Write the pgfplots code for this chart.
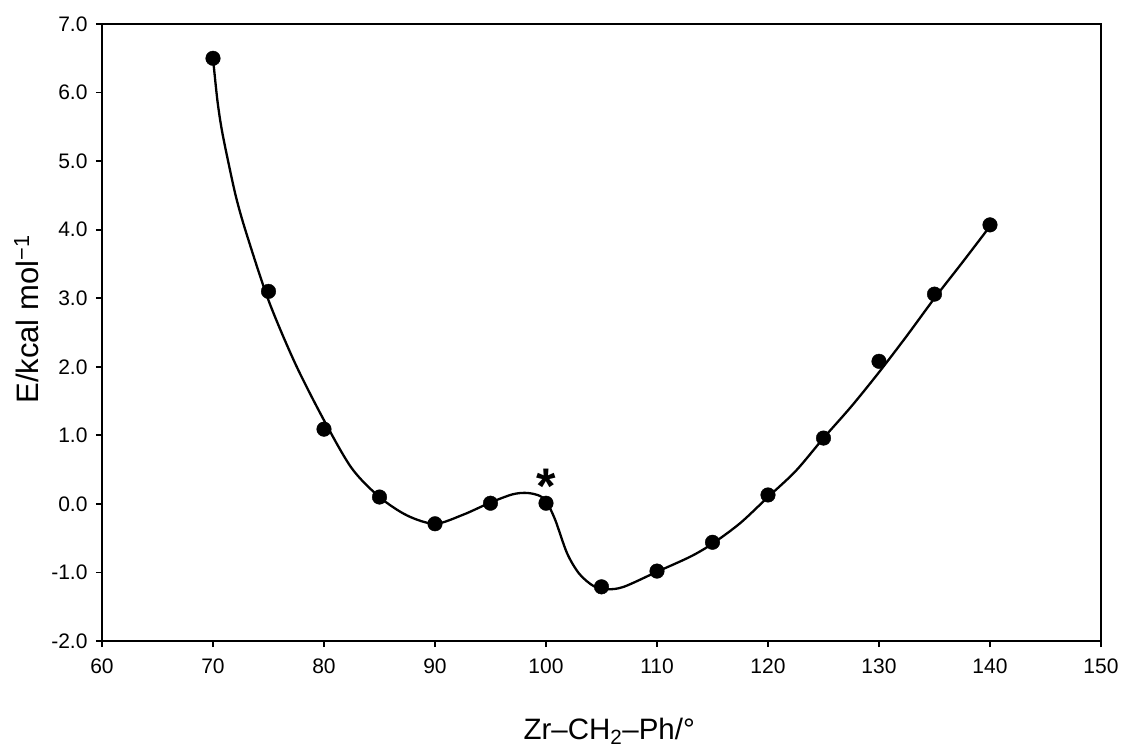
\documentclass[border=0pt]{standalone}
\usepackage{pgfplots}
\pgfplotsset{compat=1.18}
\usepackage{fontspec}
\setmainfont{Liberation Sans}

% computed energies
\pgfplotstableread{
x y
70 6.50
75 3.10
80 1.09
85 0.10
90 -0.29
95 0.01
100 0.01
105 -1.21
110 -0.98
115 -0.56
120 0.13
125 0.96
130 2.08
135 3.06
140 4.07
}\energies

% fitted curve
\pgfplotstableread{
x y
70.0 6.50
70.4 5.88
70.8 5.45
71.4 4.97
72.1 4.46
73.0 3.95
75.0 2.97
77.4 2.05
80.0 1.22
82.5 0.52
85.0 0.10
87.5 -0.17
90.0 -0.29
92.5 -0.16
95.0 0.02
97.0 0.14
98.3 0.16
99.4 0.12
100.0 0.04
100.8 -0.22
101.9 -0.72
103.0 -1.02
104.3 -1.20
105.5 -1.245
107.0 -1.21
110.0 -0.99
113.0 -0.77
115.0 -0.58
117.5 -0.28
120.0 0.10
122.5 0.48
125.0 0.96
127.5 1.42
130.0 1.92
132.5 2.45
135.0 3.00
137.5 3.52
140.0 4.05
}\fit

\begin{document}
\begin{tikzpicture}
\begin{axis}[
    at={(0pt,0pt)}, anchor=south west,
    scale only axis,
    width=999pt, height=617pt,
    xmin=60, xmax=150, ymin=-2, ymax=7,
    xtick={60,70,...,150},
    ytick={-2,-1,...,7},
    tick pos=left,
    tick align=outside,
    major tick length=6pt,
    axis line style={line width=1.8pt},
    every tick/.style={black, line width=1.8pt},
    tick label style={font=\fontsize{21}{24}\selectfont},
    /pgf/number format/assume math mode=true,
    yticklabel style={xshift=-5pt, /pgf/number format/.cd, fixed, fixed zerofill, precision=1},
    xticklabel style={yshift=-8pt, /pgf/number format/.cd, fixed, precision=0},
    xlabel={Zr–CH\textsubscript{2}–Ph/°},
    ylabel={E/kcal mol\textsuperscript{−1}},
    xlabel style={font=\fontsize{29.5}{33}\selectfont, at={(axis description cs:0.4184,-0.159)}, anchor=base west},
    ylabel style={font=\fontsize{31}{35}\selectfont, at={(axis description cs:-0.064,0.379)}, anchor=base west, rotate=0},
]
\addplot[black, line width=2.3pt, smooth, no markers] table {\fit};
\addplot[only marks, mark=*, mark size=7.3pt, black] table {\energies};
\node[anchor=base, font=\fontsize{50}{54}\bfseries] at (axis cs:100,0.0) {*};
\end{axis}
\path (-102pt,-105pt) rectangle (1022pt,641pt);
\end{tikzpicture}
\end{document}
